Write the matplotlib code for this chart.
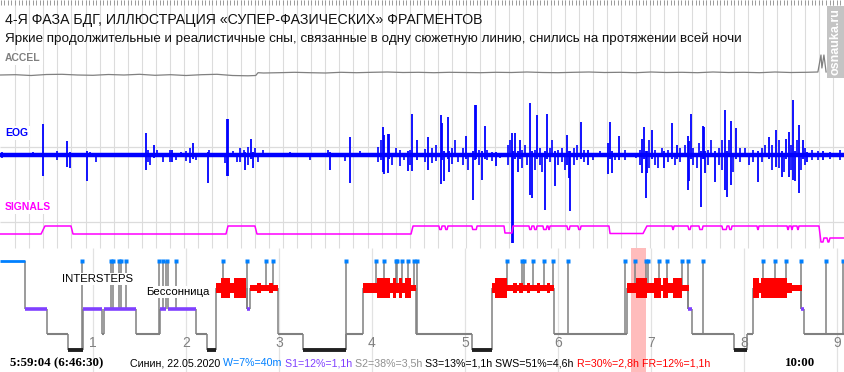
"""
Гипнограмма + сигналы (ACCEL / EOG / SIGNALS), 4-я фаза БДГ
"""
import matplotlib
matplotlib.use("Agg")
import matplotlib.pyplot as plt

W, H = 845, 372
plt.rcParams['font.family'] = ['Liberation Sans', 'DejaVu Sans']

# время везде в минутах от начала записи
T_END = 545.2
hours = [1, 2, 3, 4, 5, 6, 7, 8, 9]

# --- гипнограмма ---
hyp_t = [0, 16.1, 30.3, 43.9, 53.5, 65.8, 67.1, 87.7, 103.2, 107.1, 108.4, 126.5,
         133.5, 139.4, 159.4, 161.3, 179.4, 195.5, 223.2, 234.2, 268.4, 304.5,
         317.4, 357.4, 404.5, 444.0, 446.5, 473.6, 482.0, 485.8, 516.8, 518.7]
hyp_stage = ['W', 'S1', 'S2', 'S3', 'S1', 'S2', 'S1', 'S2', 'S1', 'W', 'S1', 'S2',
             'S3', 'R', 'S1', 'R', 'S2', 'S3', 'S2', 'R', 'S2', 'S3',
             'R', 'S2', 'R', 'S1', 'S2', 'S3', 'S2', 'R', 'S1', 'S2']

# интенсивность БДГ (1 - слабая, 2 - средняя, 3 - сильная)
rem_start = [139.4, 142.6, 148.4, 151.0, 161.3, 165.8, 168.4, 173.6, 176.1,
             234.2, 243.2, 251.6, 253.6, 255.5, 257.4, 259.4, 261.3, 265.2,
             317.4, 319.4, 327.1, 331.0, 333.6, 334.9, 337.4, 340.0, 342.0, 346.5, 348.4, 352.9, 354.9,
             404.5, 410.3, 417.4, 422.0, 426.5, 427.8, 431.0, 434.2, 440.0,
             485.8, 489.7, 491.0, 507.8, 511.0]
rem_end = [142.6, 148.4, 151.0, 158.7, 165.8, 168.4, 173.6, 176.1, 179.4,
           243.2, 251.6, 253.6, 255.5, 257.4, 259.4, 261.3, 265.2, 268.4,
           319.4, 327.1, 331.0, 333.6, 334.9, 337.4, 340.0, 342.0, 346.5, 348.4, 352.9, 354.9, 357.4,
           410.3, 417.4, 422.0, 426.5, 427.8, 431.0, 434.2, 440.0, 444.5,
           489.7, 491.0, 507.8, 511.0, 517.5]
rem_level = [2, 3, 2, 3, 1, 2, 1, 2, 1,
             2, 3, 2, 3, 2, 3, 2, 3, 1,
             2, 3, 1, 2, 1, 2, 1, 2, 1, 2, 1, 2, 1,
             2, 3, 2, 3, 1, 3, 2, 3, 1,
             3, 2, 3, 2, 1]

# кратковременные пробуждения
wake_t = [53.2, 71.6, 72.9, 76.8, 78.1, 81.3, 102.6, 105.2, 107.7, 113.6, 143.9,
          159.5, 171.6, 176.1, 223.0, 242.6, 247.8, 255.5, 256.1, 259.4, 263.2,
          267.1, 269.0, 327.1, 336.8, 338.1, 343.9, 351.0, 356.8, 366.5, 403.3,
          409.7, 416.8, 418.1, 425.2, 430.4, 440.0, 444.1, 453.6, 492.3, 500.0,
          507.1, 517.0, 532.9, 543.9]

highlight = (407.1, 416.8)

# --- ACCEL ---
acc_t = [0, 10, 20, 30, 40, 50, 60, 70, 80, 90, 100, 110, 120, 130, 140, 150, 160,
         165.0, 166.5,
         170, 180, 190, 200, 210, 220, 230, 240, 250, 260,
         270, 280, 290, 300, 310, 320, 330, 340, 350, 360,
         370, 380, 390, 400, 410, 420, 430, 440, 450, 460,
         470, 480, 490, 500, 510, 520,
         527.7, 529.7, 530.3, 531.6, 533.0]
acc_v = [0, 0.3, -0.5, 0.5, 0.7, 0, -0.3, 0.5, 0, 0.7, -0.3, 0.3, -0.5, 0.3, 0.7, -0.5, -0.8,
         -0.5, 2.3,
         2, 2.3, 2.7, 2.3, 2, 2.7, 2.3, 2.7, 3, 2.5,
         2.7, 2.3, 2.7, 2.5, 2.3, 2.7, 2.5, 3, 2.5, 2.3,
         2.7, 3, 2.5, 2.7, 2.3, 3, 2.5, 2.7, 2.3, 3,
         2.5, 2.7, 2.3, 3, 2.5, 2.7,
         3, 20, 7, 20, 3]

# --- EOG: крупные выбросы ---
eog_t = [27.7, 43.2, 45.2, 56.1, 94.2, 99.4, 111.0, 124.5, 134.2, 146.5, 147.1, 158.1,
         161.9, 163.2, 212.9, 225.8, 247.1, 247.8, 250.3, 251.0, 263.2, 265.8, 269.0,
         276.1, 284.5, 285.2, 286.5, 289.0, 289.7, 300.7, 305.2, 306.5, 307.1, 311.0,
         312.9, 320.0, 330.3, 331.0, 332.3, 334.2, 335.5, 342.0, 343.2, 346.5, 351.6,
         352.9, 358.1, 365.8, 367.1, 367.8, 374.9, 379.4, 392.3, 393.6, 394.9, 399.4,
         414.2, 415.5, 416.8, 417.4, 420.7, 428.4, 433.6, 436.8, 443.9, 444.5, 445.8,
         452.3, 453.6, 454.2, 454.9, 461.3, 467.8, 469.1, 471.6, 474.9, 489.1, 496.2,
         500.7, 504.5, 507.1, 509.1, 511.6, 512.9, 515.5, 518.1, 520.7, 531.0]
eog_up = [31, 14, 3, 4, 22, 10, 5, 12, 3, 36, 36, 3, 16, 3, 3, 18, 28, 20, 21, 21, 4, 41,
          15, 18, 40, 32, 4, 38, 4, 19, 4, 50, 50, 4, 29, 3, 22, 4, 22, 4, 15, 52, 4, 40,
          4, 41, 4, 20, 4, 4, 33, 5, 12, 33, 4, 19, 16, 28, 4, 4, 25, 4, 32, 10, 19, 14,
          41, 4, 29, 28, 4, 4, 45, 4, 34, 27, 4, 18, 25, 4, 16, 23, 55, 4, 30, 15, 3, 4]
eog_dn = [21, 12, 13, 26, 15, 3, 7, 4, 28, 21, 21, 15, 4, 13, 15, 28, 17, 19, 18, 4, 16,
          16, 5, 15, 29, 5, 26, 4, 17, 4, 45, 5, 4, 25, 4, 11, 88, 88, 4, 17, 4, 40, 43,
          4, 55, 4, 31, 10, 23, 56, 4, 10, 19, 4, 18, 5, 18, 4, 43, 18, 4, 13, 4, 4, 35,
          26, 4, 52, 4, 4, 18, 27, 35, 42, 30, 4, 27, 4, 12, 22, 4, 22, 25, 26, 38, 4, 7, 5]

# --- EOG: мелкие колебания ---
eog_small_t = [1.3, 21.3, 36.8, 58.1, 61.9, 95.5, 96.8, 101.3, 105.2, 109.7, 113.6, 116.8,
               120.0, 122.6, 126.5, 134.8, 145.2, 150.3, 152.9, 154.8, 157.4, 160.0, 164.5,
               166.5, 169.7, 187.1, 200.0, 211.6, 222.6, 232.3, 243.9, 245.8, 252.9, 255.5,
               258.1, 260.7, 264.5, 274.2, 278.7, 281.3, 291.6, 293.6, 295.5, 298.7, 302.0,
               309.0, 314.2, 317.4, 322.6, 327.8, 329.1, 336.8, 338.7, 340.0, 345.2, 348.4,
               349.7, 354.9, 356.1, 360.0, 362.6, 364.5, 370.3, 372.3, 376.8, 382.6, 387.1,
               396.8, 403.3, 410.3, 412.9, 418.7, 422.6, 424.5, 427.1, 431.0, 435.5, 438.7,
               442.0, 447.1, 449.7, 451.0, 456.8, 458.7, 463.9, 465.8, 470.3, 472.9, 477.4,
               480.7, 483.3, 485.8, 491.6, 493.6, 498.1, 502.6, 505.8, 510.4, 514.2, 516.8,
               519.4, 523.9, 527.8, 535.5, 542.0]
eog_small_up = [3, 3, 4, 3, 2, 5, 2, 5, 2, 5, 2, 3, 4, 7, 2, 5, 2, 4, 2, 7, 5, 8, 7, 2, 5,
                3, 2, 5, 2, 4, 8, 15, 2, 7, 5, 2, 5, 6, 7, 10, 7, 15, 2, 7, 2, 5, 5, 3, 2,
                10, 15, 5, 10, 2, 5, 7, 2, 7, 15, 5, 7, 2, 7, 10, 5, 2, 4, 2, 5, 2, 5, 15,
                5, 2, 7, 5, 2, 7, 10, 7, 2, 12, 5, 15, 7, 15, 15, 2, 7, 7, 2, 5, 7, 10, 10,
                15, 2, 10, 15, 2, 7, 5, 4, 3, 5]
eog_small_dn = [3, 2, 5, 2, 7, 7, 10, 2, 7, 7, 5, 2, 6, 8, 5, 2, 8, 2, 7, 7, 2, 10, 2, 7, 2,
                2, 5, 2, 6, 2, 7, 5, 10, 2, 11, 5, 10, 7, 8, 6, 9, 2, 7, 10, 15, 10, 5, 6, 3,
                10, 2, 13, 2, 10, 15, 10, 17, 7, 2, 10, 7, 15, 10, 5, 7, 5, 2, 5, 5, 3, 10,
                13, 10, 13, 2, 7, 10, 7, 2, 10, 13, 2, 10, 2, 10, 15, 2, 17, 7, 2, 10, 7, 7,
                2, 15, 13, 17, 15, 2, 15, 10, 5, 5, 4, 5]

# --- SIGNALS ---
sig_t = [0, 26.5, 29.0, 45.8, 47.1, 145.8, 147.1, 164.5, 165.8, 265.2, 266.5, 325.2, 325.8,
         330.3, 331.0, 392.9, 393.6, 414.9, 417.4, 528.4, 529.7, 531.0, 531.6, 533.6, 534.2,
         534.8, 535.5, 545.2]
sig_v = [0, 0, 8, 8, 0, 0, 8, 8, 0, 0, 8, 8, 1, 1, 8, 8, 0.5, 0.5, 8, 8, -8, -8, -4, -4,
         -8, -8, -4, -4]
sig_dip_start = [283.2, 287.1, 304.5, 341.3, 344.5, 350.3, 353.6, 365.8, 372.9, 433.6,
                 443.9, 451.0, 465.8, 470.3, 488.4, 507.8, 510.4, 514.2]
sig_dip_end = [285.2, 289.0, 307.8, 343.2, 346.5, 352.9, 354.9, 367.8, 374.9, 434.9,
               445.8, 453.6, 469.1, 472.3, 489.7, 509.1, 511.6, 515.5]

stats = [("Синин, 22.05.2020", "black"), (" W=7%=40m", "#0080ff"),
         (" S1=12%=1,1h", "#8040ff"), (" S2=38%=3,5h", "#909090"),
         (" S3=13%=1,1h", "black"), (" SWS=51%=4,6h", "black"),
         (" R=30%=2,8h", "red"), (" FR=12%=1,1h", "red")]

# ------------------------------------------------------------------
stage_y = {'W': 261, 'R': 288, 'S1': 309, 'S2': 334, 'S3': 350}
stage_color = {'W': '#0080ff', 'S1': '#8040ff', 'S2': '#808080', 'S3': '#202020'}
stage_lw = {'W': 2.0, 'S1': 2.6, 'S2': 1.5, 'S3': 2.8}
rem_half = {1: 2.8, 2: 5, 3: 10}
GRAY = '#808080'
GRID = '#dcdcdc'

fig = plt.figure(figsize=(W / 100, H / 100), dpi=100)


def px_axes(x0, y0, x1, y1, ylim):
    ax = fig.add_axes([x0 / W, 1 - y1 / H, (x1 - x0) / W, (y1 - y0) / H])
    ax.set_xlim(0, T_END)
    ax.set_ylim(*ylim)
    ax.set_axis_off()
    return ax


def ftext(x, y, s, **kw):
    return fig.text(x / W, 1 - y / H, s, **kw)


# сетка верхней панели
ax_g = px_axes(0, 0, W, 250, (250, 0))
step = 9.1
g = [9.68 + step * k for k in range(59)]
ax_g.vlines(g, 0, 248, color=GRID, lw=0.8)
ticks = [9.68 + step / 4 * k for k in range(-4, 236)]
ax_g.vlines(ticks, 0, 5, color='#9a9a9a', lw=0.7)
ax_g.hlines([147, 222], 0, T_END, color=GRID, lw=0.9)

# ACCEL
ax_a = px_axes(0, 45, W, 105, (-30, 30))
ax_a.plot(acc_t, acc_v, color=GRAY, lw=0.9)

# EOG
ax_e = px_axes(0, 60, W, 250, (-95, 95))
ax_e.hlines(0, 0, T_END, color='#0000ff', lw=3.2)
ax_e.vlines(eog_small_t, [-d for d in eog_small_dn], eog_small_up, color='#0000ff', lw=1.2)
ax_e.vlines(eog_t, [-d for d in eog_dn], eog_up, color='#0000ff', lw=1.3)

# SIGNALS
pts = list(zip(sig_t, sig_v))
for s, e in zip(sig_dip_start, sig_dip_end):
    pts += [(s, 8), (s + 0.5, 4.5), (e - 0.5, 4.5), (e, 8)]
pts.sort()
ax_s = px_axes(0, 200, W, 250, (-16, 34))
ax_s.plot([p[0] for p in pts], [p[1] for p in pts], color='#ff00ff', lw=1.1)

# гипнограмма
ax_h = px_axes(0, 248, W, H, (H, 248))
ax_h.axvspan(highlight[0], highlight[1], color='#ffbcbc', lw=0, zorder=0)
ax_h.vlines([h * 60 for h in hours], 248, H, color='#e2e2e2', lw=0.9, zorder=0)
for h in hours:
    ax_h.text(h * 60, 343, str(h), ha='center', va='center', color=GRAY, fontsize=10)


def stage_at(t):
    st = hyp_stage[0]
    for t0, s in zip(hyp_t, hyp_stage):
        if t0 <= t:
            st = s
    return st


ends = hyp_t[1:] + [T_END]
for i, (t0, t1, st) in enumerate(zip(hyp_t, ends, hyp_stage)):
    y = stage_y[st]
    if i > 0:
        ax_h.vlines(t0, stage_y[hyp_stage[i - 1]], y, color=GRAY, lw=1.1, zorder=2)
    if st != 'R':
        ax_h.hlines(y, t0, t1, color=stage_color[st], lw=stage_lw[st], zorder=3)

ax_h.vlines(wake_t, stage_y['W'], [stage_y[stage_at(t)] for t in wake_t],
            color=GRAY, lw=1.1, zorder=2)
ax_h.plot(wake_t, [stage_y['W']] * len(wake_t), 's', ms=3, color='#0080ff',
          mec='none', zorder=4)

yr = stage_y['R']
for s, e, lv in zip(rem_start, rem_end, rem_level):
    ax_h.fill_between([s, e], yr - rem_half[lv], yr + rem_half[lv], color='red', lw=0, zorder=3)

box = dict(facecolor='white', edgecolor='none', pad=0.5)
ax_h.text(40.0, 279, 'INTERSTEPS', fontsize=8.2, va='center', ha='left', bbox=box, zorder=5)
ax_h.text(94.2, 292, 'Бессонница', fontsize=8.2, va='center', ha='left', bbox=box, zorder=5)

# подписи каналов
lab = dict(facecolor='white', edgecolor='none', pad=1.5)
ftext(5, 58, 'ACCEL', color=GRAY, fontsize=7.5, weight='bold', va='center', bbox=lab)
ftext(5, 133, 'EOG', color='#0000ff', fontsize=7.5, weight='bold', va='center', bbox=lab)
ftext(5, 207, 'SIGNALS', color='#ff00ff', fontsize=7.5, weight='bold', va='center', bbox=lab)

# заголовки
ftext(5, 20, '4-Я ФАЗА БДГ, ИЛЛЮСТРАЦИЯ «СУПЕР-ФАЗИЧЕСКИХ» ФРАГМЕНТОВ',
      fontsize=10.2, va='center', color='#111111')
ftext(5, 39, 'Яркие продолжительные и реалистичные сны, связанные в одну сюжетную линию, '
      'снились на протяжении всей ночи', fontsize=9.7, va='center', color='#111111')

# водяной знак
ftext(836, 42, 'osnauka.ru', rotation=90, color='white', fontsize=9, weight='bold',
      ha='center', va='center', bbox=dict(facecolor='#c4c4c4', edgecolor='none', pad=2))

# нижняя строка
serif = ['Liberation Serif', 'DejaVu Serif']
ftext(10, 363, '5:59:04 (6:46:30)', family=serif, weight='bold', fontsize=9.3, va='center')
ftext(785, 363, '10:00', family=serif, weight='bold', fontsize=9.3, va='center')

renderer = fig.canvas.get_renderer()
x = 130 / W
for s, c in stats:
    t = fig.text(x, 1 - 363 / H, s, color=c, fontsize=7.7, va='center')
    bb = t.get_window_extent(renderer)
    x = bb.x1 / W

fig.savefig('out.png', dpi=100)
